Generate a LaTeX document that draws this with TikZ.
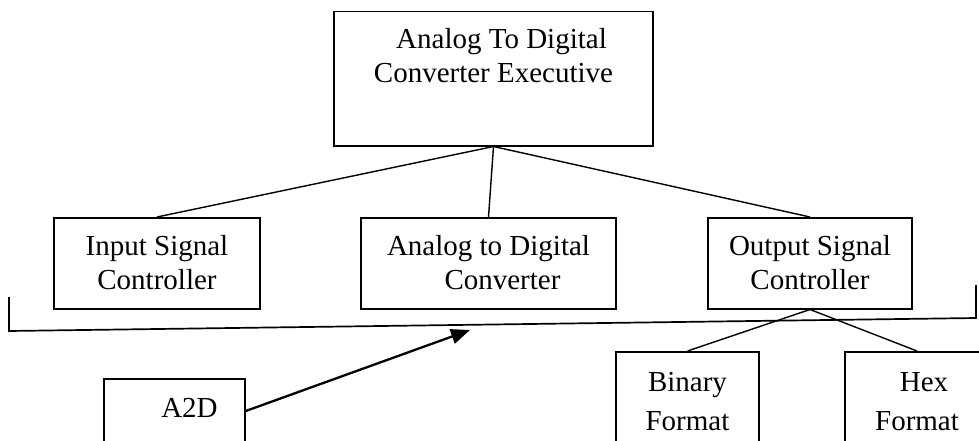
\documentclass[tikz,border=0pt]{standalone}
\usepackage{fontspec}
\setmainfont{Liberation Serif}
\usetikzlibrary{arrows.meta,calc}
\begin{document}
\begin{tikzpicture}[x=1pt,y=-1pt,
  box/.style={draw=black,line width=1.5pt,rectangle,inner sep=0pt,anchor=north,
    align=center,font=\fontsize{29}{34}\selectfont},
  twoline/.style={text height=72pt},
  oneline/.style={text height=39pt},
  conn/.style={draw=black,line width=1.4pt},
  bracket/.style={draw=black,line width=1.7pt},
  arr/.style={draw=black,line width=2.3pt,-{Triangle[length=19pt,width=15pt]}}]
\useasboundingbox (0,0) rectangle (979,441);
\clip (0,0) rectangle (979,441);
\node[box,text height=71pt,minimum width=319pt,text depth=63pt] (exec) at (493.5,11)
  {\hspace*{16pt}Analog To Digital\\Converter Executive};
\node[box,twoline,minimum width=206pt,text depth=19pt] (isc) at (157,217)
  {Input Signal\\Controller};
\node[box,twoline,minimum width=255pt,text depth=19pt] (adc) at (488.5,217)
  {Analog to Digital\\\hspace*{28pt}Converter};
\node[box,twoline,minimum width=204pt,text depth=19pt] (osc) at (810,217)
  {Output Signal\\Controller};
\node[box,oneline,minimum width=141pt,text depth=60pt] (a2d) at (174.5,378)
  {\hspace*{30pt}A2D};
\node[box,text height=79pt,minimum width=143pt,text depth=40pt] (bin) at (687.5,351)
  {Binary\\[5pt]Format};
\node[box,text height=79pt,minimum width=144pt,text depth=40pt] (hex) at (917,351)
  {\hspace*{14pt}Hex\\[5pt]Format};
\draw[conn] (exec.south) -- (isc.north);
\draw[conn] (exec.south) -- (adc.north);
\draw[conn] (exec.south) -- (osc.north);
\draw[conn] (osc.south) -- (bin.north);
\draw[conn] (osc.south) -- (hex.north);
\coordinate (bl1) at (9,297);
\coordinate (bl2) at (9,331);
\coordinate (br2) at (976,318);
\coordinate (br1) at (976,285);
\draw[bracket] (bl1) -- (bl2) -- (br2) -- (br1);
\coordinate (a2dout) at ($(a2d.north east)+(0,33)$);
\coordinate (tip) at (470,330);
\draw[arr] (a2dout) -- (tip);
\end{tikzpicture}
\end{document}
